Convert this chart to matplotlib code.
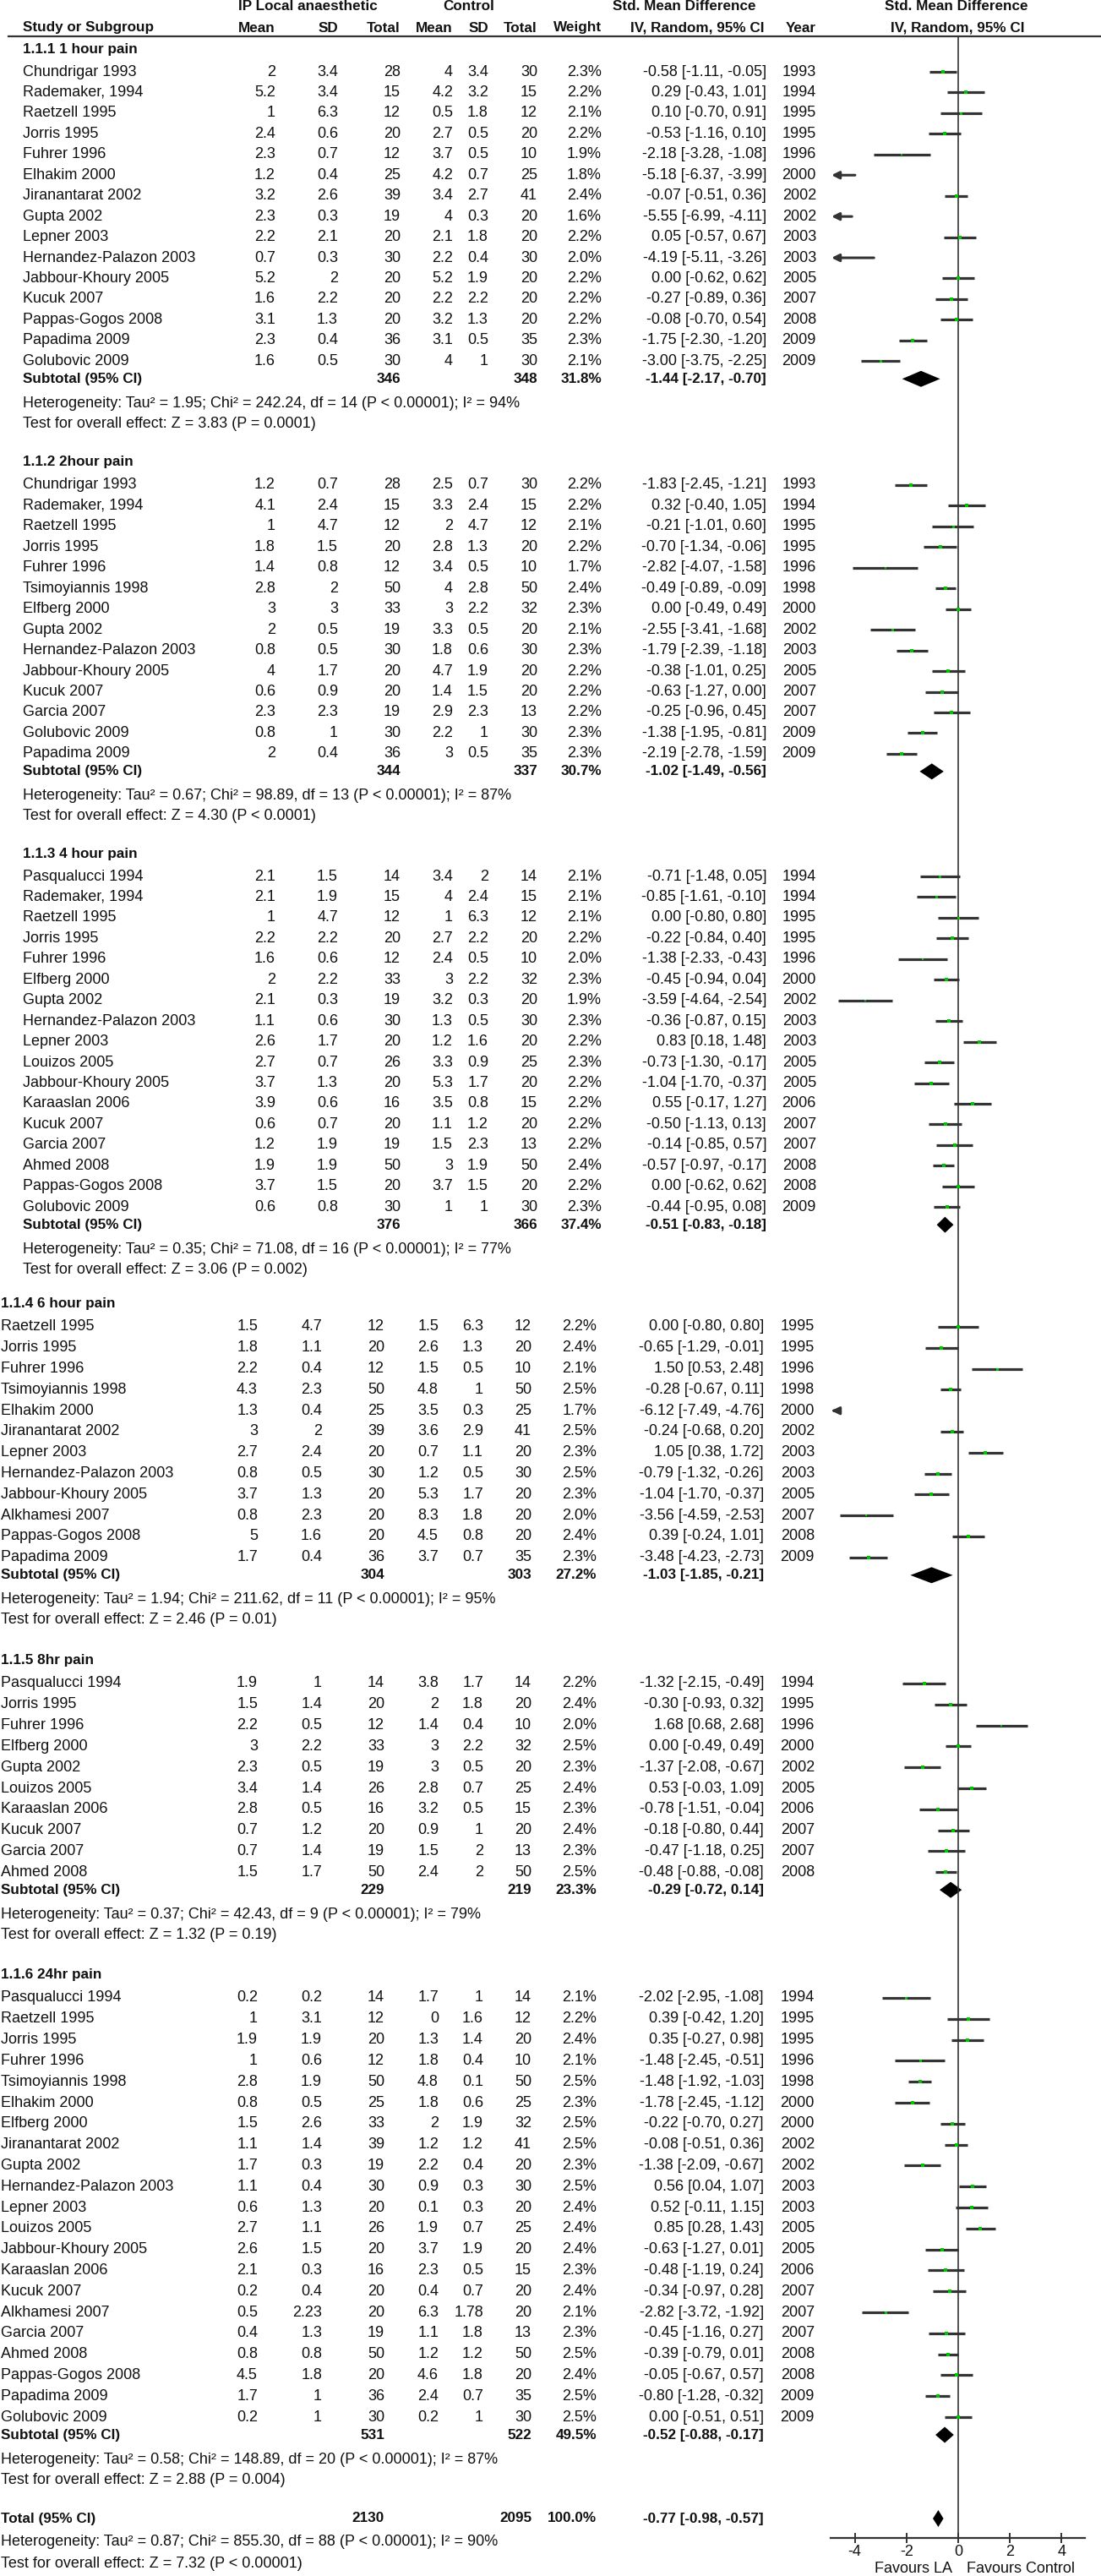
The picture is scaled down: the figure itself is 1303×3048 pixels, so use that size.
import matplotlib
matplotlib.use("Agg")
import matplotlib.pyplot as plt

plt.rcParams['font.family'] = ['Liberation Sans', 'DejaVu Sans']
plt.rcParams['axes.unicode_minus'] = False

# ---- 1.1.1 1 hour pain
h1_study = ["Chundrigar 1993", "Rademaker, 1994", "Raetzell 1995", "Jorris 1995", "Fuhrer 1996",
            "Elhakim 2000", "Jiranantarat 2002", "Gupta 2002", "Lepner 2003", "Hernandez-Palazon 2003",
            "Jabbour-Khoury 2005", "Kucuk 2007", "Pappas-Gogos 2008", "Papadima 2009", "Golubovic 2009"]
h1_year = [1993, 1994, 1995, 1995, 1996, 2000, 2002, 2002, 2003, 2003, 2005, 2007, 2008, 2009, 2009]
h1_la_mean = [2, 5.2, 1, 2.4, 2.3, 1.2, 3.2, 2.3, 2.2, 0.7, 5.2, 1.6, 3.1, 2.3, 1.6]
h1_la_sd = [3.4, 3.4, 6.3, 0.6, 0.7, 0.4, 2.6, 0.3, 2.1, 0.3, 2, 2.2, 1.3, 0.4, 0.5]
h1_la_n = [28, 15, 12, 20, 12, 25, 39, 19, 20, 30, 20, 20, 20, 36, 30]
h1_c_mean = [4, 4.2, 0.5, 2.7, 3.7, 4.2, 3.4, 4, 2.1, 2.2, 5.2, 2.2, 3.2, 3.1, 4]
h1_c_sd = [3.4, 3.2, 1.8, 0.5, 0.5, 0.7, 2.7, 0.3, 1.8, 0.4, 1.9, 2.2, 1.3, 0.5, 1]
h1_c_n = [30, 15, 12, 20, 10, 25, 41, 20, 20, 30, 20, 20, 20, 35, 30]
h1_weight = [2.3, 2.2, 2.1, 2.2, 1.9, 1.8, 2.4, 1.6, 2.2, 2.0, 2.2, 2.2, 2.2, 2.3, 2.1]
h1_smd = [-0.58, 0.29, 0.10, -0.53, -2.18, -5.18, -0.07, -5.55, 0.05, -4.19, 0.00, -0.27, -0.08, -1.75, -3.00]
h1_lo = [-1.11, -0.43, -0.70, -1.16, -3.28, -6.37, -0.51, -6.99, -0.57, -5.11, -0.62, -0.89, -0.70, -2.30, -3.75]
h1_hi = [-0.05, 1.01, 0.91, 0.10, -1.08, -3.99, 0.36, -4.11, 0.67, -3.26, 0.62, 0.36, 0.54, -1.20, -2.25]

# ---- 1.1.2 2hour pain
h2_study = ["Chundrigar 1993", "Rademaker, 1994", "Raetzell 1995", "Jorris 1995", "Fuhrer 1996",
            "Tsimoyiannis 1998", "Elfberg 2000", "Gupta 2002", "Hernandez-Palazon 2003", "Jabbour-Khoury 2005",
            "Kucuk 2007", "Garcia 2007", "Golubovic 2009", "Papadima 2009"]
h2_year = [1993, 1994, 1995, 1995, 1996, 1998, 2000, 2002, 2003, 2005, 2007, 2007, 2009, 2009]
h2_la_mean = [1.2, 4.1, 1, 1.8, 1.4, 2.8, 3, 2, 0.8, 4, 0.6, 2.3, 0.8, 2]
h2_la_sd = [0.7, 2.4, 4.7, 1.5, 0.8, 2, 3, 0.5, 0.5, 1.7, 0.9, 2.3, 1, 0.4]
h2_la_n = [28, 15, 12, 20, 12, 50, 33, 19, 30, 20, 20, 19, 30, 36]
h2_c_mean = [2.5, 3.3, 2, 2.8, 3.4, 4, 3, 3.3, 1.8, 4.7, 1.4, 2.9, 2.2, 3]
h2_c_sd = [0.7, 2.4, 4.7, 1.3, 0.5, 2.8, 2.2, 0.5, 0.6, 1.9, 1.5, 2.3, 1, 0.5]
h2_c_n = [30, 15, 12, 20, 10, 50, 32, 20, 30, 20, 20, 13, 30, 35]
h2_weight = [2.2, 2.2, 2.1, 2.2, 1.7, 2.4, 2.3, 2.1, 2.3, 2.2, 2.2, 2.2, 2.3, 2.3]
h2_smd = [-1.83, 0.32, -0.21, -0.70, -2.82, -0.49, 0.00, -2.55, -1.79, -0.38, -0.63, -0.25, -1.38, -2.19]
h2_lo = [-2.45, -0.40, -1.01, -1.34, -4.07, -0.89, -0.49, -3.41, -2.39, -1.01, -1.27, -0.96, -1.95, -2.78]
h2_hi = [-1.21, 1.05, 0.60, -0.06, -1.58, -0.09, 0.49, -1.68, -1.18, 0.25, 0.00, 0.45, -0.81, -1.59]

# ---- 1.1.3 4 hour pain
h3_study = ["Pasqualucci 1994", "Rademaker, 1994", "Raetzell 1995", "Jorris 1995", "Fuhrer 1996",
            "Elfberg 2000", "Gupta 2002", "Hernandez-Palazon 2003", "Lepner 2003", "Louizos 2005",
            "Jabbour-Khoury 2005", "Karaaslan 2006", "Kucuk 2007", "Garcia 2007", "Ahmed 2008",
            "Pappas-Gogos 2008", "Golubovic 2009"]
h3_year = [1994, 1994, 1995, 1995, 1996, 2000, 2002, 2003, 2003, 2005, 2005, 2006, 2007, 2007, 2008, 2008, 2009]
h3_la_mean = [2.1, 2.1, 1, 2.2, 1.6, 2, 2.1, 1.1, 2.6, 2.7, 3.7, 3.9, 0.6, 1.2, 1.9, 3.7, 0.6]
h3_la_sd = [1.5, 1.9, 4.7, 2.2, 0.6, 2.2, 0.3, 0.6, 1.7, 0.7, 1.3, 0.6, 0.7, 1.9, 1.9, 1.5, 0.8]
h3_la_n = [14, 15, 12, 20, 12, 33, 19, 30, 20, 26, 20, 16, 20, 19, 50, 20, 30]
h3_c_mean = [3.4, 4, 1, 2.7, 2.4, 3, 3.2, 1.3, 1.2, 3.3, 5.3, 3.5, 1.1, 1.5, 3, 3.7, 1]
h3_c_sd = [2, 2.4, 6.3, 2.2, 0.5, 2.2, 0.3, 0.5, 1.6, 0.9, 1.7, 0.8, 1.2, 2.3, 1.9, 1.5, 1]
h3_c_n = [14, 15, 12, 20, 10, 32, 20, 30, 20, 25, 20, 15, 20, 13, 50, 20, 30]
h3_weight = [2.1, 2.1, 2.1, 2.2, 2.0, 2.3, 1.9, 2.3, 2.2, 2.3, 2.2, 2.2, 2.2, 2.2, 2.4, 2.2, 2.3]
h3_smd = [-0.71, -0.85, 0.00, -0.22, -1.38, -0.45, -3.59, -0.36, 0.83, -0.73, -1.04, 0.55, -0.50, -0.14, -0.57, 0.00, -0.44]
h3_lo = [-1.48, -1.61, -0.80, -0.84, -2.33, -0.94, -4.64, -0.87, 0.18, -1.30, -1.70, -0.17, -1.13, -0.85, -0.97, -0.62, -0.95]
h3_hi = [0.05, -0.10, 0.80, 0.40, -0.43, 0.04, -2.54, 0.15, 1.48, -0.17, -0.37, 1.27, 0.13, 0.57, -0.17, 0.62, 0.08]

# ---- 1.1.4 6 hour pain
h4_study = ["Raetzell 1995", "Jorris 1995", "Fuhrer 1996", "Tsimoyiannis 1998", "Elhakim 2000",
            "Jiranantarat 2002", "Lepner 2003", "Hernandez-Palazon 2003", "Jabbour-Khoury 2005",
            "Alkhamesi 2007", "Pappas-Gogos 2008", "Papadima 2009"]
h4_year = [1995, 1995, 1996, 1998, 2000, 2002, 2003, 2003, 2005, 2007, 2008, 2009]
h4_la_mean = [1.5, 1.8, 2.2, 4.3, 1.3, 3, 2.7, 0.8, 3.7, 0.8, 5, 1.7]
h4_la_sd = [4.7, 1.1, 0.4, 2.3, 0.4, 2, 2.4, 0.5, 1.3, 2.3, 1.6, 0.4]
h4_la_n = [12, 20, 12, 50, 25, 39, 20, 30, 20, 20, 20, 36]
h4_c_mean = [1.5, 2.6, 1.5, 4.8, 3.5, 3.6, 0.7, 1.2, 5.3, 8.3, 4.5, 3.7]
h4_c_sd = [6.3, 1.3, 0.5, 1, 0.3, 2.9, 1.1, 0.5, 1.7, 1.8, 0.8, 0.7]
h4_c_n = [12, 20, 10, 50, 25, 41, 20, 30, 20, 20, 20, 35]
h4_weight = [2.2, 2.4, 2.1, 2.5, 1.7, 2.5, 2.3, 2.5, 2.3, 2.0, 2.4, 2.3]
h4_smd = [0.00, -0.65, 1.50, -0.28, -6.12, -0.24, 1.05, -0.79, -1.04, -3.56, 0.39, -3.48]
h4_lo = [-0.80, -1.29, 0.53, -0.67, -7.49, -0.68, 0.38, -1.32, -1.70, -4.59, -0.24, -4.23]
h4_hi = [0.80, -0.01, 2.48, 0.11, -4.76, 0.20, 1.72, -0.26, -0.37, -2.53, 1.01, -2.73]

# ---- 1.1.5 8hr pain
h5_study = ["Pasqualucci 1994", "Jorris 1995", "Fuhrer 1996", "Elfberg 2000", "Gupta 2002",
            "Louizos 2005", "Karaaslan 2006", "Kucuk 2007", "Garcia 2007", "Ahmed 2008"]
h5_year = [1994, 1995, 1996, 2000, 2002, 2005, 2006, 2007, 2007, 2008]
h5_la_mean = [1.9, 1.5, 2.2, 3, 2.3, 3.4, 2.8, 0.7, 0.7, 1.5]
h5_la_sd = [1, 1.4, 0.5, 2.2, 0.5, 1.4, 0.5, 1.2, 1.4, 1.7]
h5_la_n = [14, 20, 12, 33, 19, 26, 16, 20, 19, 50]
h5_c_mean = [3.8, 2, 1.4, 3, 3, 2.8, 3.2, 0.9, 1.5, 2.4]
h5_c_sd = [1.7, 1.8, 0.4, 2.2, 0.5, 0.7, 0.5, 1, 2, 2]
h5_c_n = [14, 20, 10, 32, 20, 25, 15, 20, 13, 50]
h5_weight = [2.2, 2.4, 2.0, 2.5, 2.3, 2.4, 2.3, 2.4, 2.3, 2.5]
h5_smd = [-1.32, -0.30, 1.68, 0.00, -1.37, 0.53, -0.78, -0.18, -0.47, -0.48]
h5_lo = [-2.15, -0.93, 0.68, -0.49, -2.08, -0.03, -1.51, -0.80, -1.18, -0.88]
h5_hi = [-0.49, 0.32, 2.68, 0.49, -0.67, 1.09, -0.04, 0.44, 0.25, -0.08]

# ---- 1.1.6 24hr pain
h6_study = ["Pasqualucci 1994", "Raetzell 1995", "Jorris 1995", "Fuhrer 1996", "Tsimoyiannis 1998",
            "Elhakim 2000", "Elfberg 2000", "Jiranantarat 2002", "Gupta 2002", "Hernandez-Palazon 2003",
            "Lepner 2003", "Louizos 2005", "Jabbour-Khoury 2005", "Karaaslan 2006", "Kucuk 2007",
            "Alkhamesi 2007", "Garcia 2007", "Ahmed 2008", "Pappas-Gogos 2008", "Papadima 2009",
            "Golubovic 2009"]
h6_year = [1994, 1995, 1995, 1996, 1998, 2000, 2000, 2002, 2002, 2003, 2003, 2005, 2005, 2006,
           2007, 2007, 2007, 2008, 2008, 2009, 2009]
h6_la_mean = [0.2, 1, 1.9, 1, 2.8, 0.8, 1.5, 1.1, 1.7, 1.1, 0.6, 2.7, 2.6, 2.1, 0.2, 0.5, 0.4, 0.8, 4.5, 1.7, 0.2]
h6_la_sd = [0.2, 3.1, 1.9, 0.6, 1.9, 0.5, 2.6, 1.4, 0.3, 0.4, 1.3, 1.1, 1.5, 0.3, 0.4, 2.23, 1.3, 0.8, 1.8, 1, 1]
h6_la_n = [14, 12, 20, 12, 50, 25, 33, 39, 19, 30, 20, 26, 20, 16, 20, 20, 19, 50, 20, 36, 30]
h6_c_mean = [1.7, 0, 1.3, 1.8, 4.8, 1.8, 2, 1.2, 2.2, 0.9, 0.1, 1.9, 3.7, 2.3, 0.4, 6.3, 1.1, 1.2, 4.6, 2.4, 0.2]
h6_c_sd = [1, 1.6, 1.4, 0.4, 0.1, 0.6, 1.9, 1.2, 0.4, 0.3, 0.3, 0.7, 1.9, 0.5, 0.7, 1.78, 1.8, 1.2, 1.8, 0.7, 1]
h6_c_n = [14, 12, 20, 10, 50, 25, 32, 41, 20, 30, 20, 25, 20, 15, 20, 20, 13, 50, 20, 35, 30]
h6_weight = [2.1, 2.2, 2.4, 2.1, 2.5, 2.3, 2.5, 2.5, 2.3, 2.5, 2.4, 2.4, 2.4, 2.3, 2.4, 2.1, 2.3, 2.5, 2.4, 2.5, 2.5]
h6_smd = [-2.02, 0.39, 0.35, -1.48, -1.48, -1.78, -0.22, -0.08, -1.38, 0.56, 0.52, 0.85, -0.63, -0.48,
          -0.34, -2.82, -0.45, -0.39, -0.05, -0.80, 0.00]
h6_lo = [-2.95, -0.42, -0.27, -2.45, -1.92, -2.45, -0.70, -0.51, -2.09, 0.04, -0.11, 0.28, -1.27, -1.19,
         -0.97, -3.72, -1.16, -0.79, -0.67, -1.28, -0.51]
h6_hi = [-1.08, 1.20, 0.98, -0.51, -1.03, -1.12, 0.27, 0.36, -0.67, 1.07, 1.15, 1.43, 0.01, 0.24,
         0.28, -1.92, 0.27, 0.01, 0.57, -0.32, 0.51]

# ---- subgroup summaries
sub_titles = ["1.1.1 1 hour pain", "1.1.2 2hour pain", "1.1.3 4 hour pain",
              "1.1.4 6 hour pain", "1.1.5 8hr pain", "1.1.6 24hr pain"]
sub_la_n = [346, 344, 376, 304, 229, 531]
sub_c_n = [348, 337, 366, 303, 219, 522]
sub_weight = [31.8, 30.7, 37.4, 27.2, 23.3, 49.5]
sub_smd = [-1.44, -1.02, -0.51, -1.03, -0.29, -0.52]
sub_lo = [-2.17, -1.49, -0.83, -1.85, -0.72, -0.88]
sub_hi = [-0.70, -0.56, -0.18, -0.21, 0.14, -0.17]
sub_het = ["Heterogeneity: Tau² = 1.95; Chi² = 242.24, df = 14 (P < 0.00001); I² = 94%",
           "Heterogeneity: Tau² = 0.67; Chi² = 98.89, df = 13 (P < 0.00001); I² = 87%",
           "Heterogeneity: Tau² = 0.35; Chi² = 71.08, df = 16 (P < 0.00001); I² = 77%",
           "Heterogeneity: Tau² = 1.94; Chi² = 211.62, df = 11 (P < 0.00001); I² = 95%",
           "Heterogeneity: Tau² = 0.37; Chi² = 42.43, df = 9 (P < 0.00001); I² = 79%",
           "Heterogeneity: Tau² = 0.58; Chi² = 148.89, df = 20 (P < 0.00001); I² = 87%"]
sub_test = ["Test for overall effect: Z = 3.83 (P = 0.0001)",
            "Test for overall effect: Z = 4.30 (P < 0.0001)",
            "Test for overall effect: Z = 3.06 (P = 0.002)",
            "Test for overall effect: Z = 2.46 (P = 0.01)",
            "Test for overall effect: Z = 1.32 (P = 0.19)",
            "Test for overall effect: Z = 2.88 (P = 0.004)"]

total_la_n = 2130
total_c_n = 2095
total_weight = 100.0
total_smd, total_lo, total_hi = -0.77, -0.98, -0.57
total_het = "Heterogeneity: Tau² = 0.87; Chi² = 855.30, df = 88 (P < 0.00001); I² = 90%"
total_test = "Test for overall effect: Z = 7.32 (P < 0.00001)"

axis_ticks = [-4, -2, 0, 2, 4]

# ---------------------------------------------------------------- layout
W, H = 1303, 3048
ZERO_PX, UNIT_PX = 1134, 30.6          # forest plot scale
LEFT_LIM, RIGHT_LIM = -4.9, 4.9        # clip for CI lines
upper = dict(name=27, m1=326, s1=400, n1=474, m2=536, s2=578, n2=636, w=712, ci=907, yr=966)
lower = dict(name=1, m1=305, s1=381, n1=455, m2=519, s2=572, n2=629, w=706, ci=904, yr=964)
head_y = [58, 547, 1010, 1543, 1965, 2337]
row_step = [24.45, 24.45, 24.45, 24.8, 24.8, 24.8]
cols_for = [upper, upper, upper, lower, lower, lower]

FS = 13
FSB = 12.3
TXT = '#111111'
LINE = '#333333'
GREEN = '#00c800'

fig = plt.figure(figsize=(W / 100, H / 100), dpi=100)
tab = fig.add_axes([0, 0, 1, 1])
tab.set_xlim(0, W)
tab.set_ylim(H, 0)
tab.axis('off')

x0_px = 980
fx_left = (x0_px - ZERO_PX) / UNIT_PX
fx_right = (W - ZERO_PX) / UNIT_PX
fp = fig.add_axes([x0_px / W, 0, (W - x0_px) / W, 1])
fp.set_xlim(fx_left, fx_right)
fp.set_ylim(H, 0)
fp.patch.set_alpha(0)
for s in ['top', 'left', 'right']:
    fp.spines[s].set_visible(False)
fp.set_yticks([])
AXIS_Y = 3003
fp.spines['bottom'].set_position(('data', AXIS_Y))
fp.spines['bottom'].set_bounds(-4.95, 4.9)
fp.spines['bottom'].set_linewidth(1.6)
fp.spines['bottom'].set_color(LINE)
fp.set_xticks(axis_ticks)
fp.set_xticklabels([str(t) for t in axis_ticks])
fp.tick_params(axis='x', direction='inout', length=9, width=1.4, colors=LINE,
               labelcolor=TXT, labelsize=FS, pad=1)


def t(x, y, s, ha='left', bold=False):
    tab.text(x, y, s, ha=ha, va='center', fontsize=FSB if bold else FS,
             fontweight='bold' if bold else 'normal', color=TXT)


def fmt(v):
    return f"{v:g}"


def ci_txt(m, lo, hi):
    return f"{m:.2f} [{lo:.2f}, {hi:.2f}]"


# header
t(364, 8, "IP Local anaesthetic", ha='center', bold=True)
t(555, 8, "Control", ha='center', bold=True)
t(810, 8, "Std. Mean Difference", ha='center', bold=True)
t(1132, 8, "Std. Mean Difference", ha='center', bold=True)
c = upper
t(c['name'], 33, "Study or Subgroup", bold=True)
for key, lab in [('m1', 'Mean'), ('s1', 'SD'), ('n1', 'Total'), ('m2', 'Mean'),
                 ('s2', 'SD'), ('n2', 'Total'), ('w', 'Weight')]:
    t(c[key], 33, lab, ha='right', bold=True)
t(825, 33, "IV, Random, 95% CI", ha='center', bold=True)
t(c['yr'], 33, "Year", ha='right', bold=True)
t(1133, 33, "IV, Random, 95% CI", ha='center', bold=True)
tab.plot([10, W], [43, 43], color=LINE, lw=1.6)

# zero line
fp.vlines(0, 43, AXIS_Y, color=LINE, lw=1.2)


def diamond(m, lo, hi, y, h=9.5):
    fp.fill([lo, m, hi, m], [y, y - h, y, y + h], color='black', lw=0)


sections = [
    (h1_study, h1_year, h1_la_mean, h1_la_sd, h1_la_n, h1_c_mean, h1_c_sd, h1_c_n, h1_weight, h1_smd, h1_lo, h1_hi),
    (h2_study, h2_year, h2_la_mean, h2_la_sd, h2_la_n, h2_c_mean, h2_c_sd, h2_c_n, h2_weight, h2_smd, h2_lo, h2_hi),
    (h3_study, h3_year, h3_la_mean, h3_la_sd, h3_la_n, h3_c_mean, h3_c_sd, h3_c_n, h3_weight, h3_smd, h3_lo, h3_hi),
    (h4_study, h4_year, h4_la_mean, h4_la_sd, h4_la_n, h4_c_mean, h4_c_sd, h4_c_n, h4_weight, h4_smd, h4_lo, h4_hi),
    (h5_study, h5_year, h5_la_mean, h5_la_sd, h5_la_n, h5_c_mean, h5_c_sd, h5_c_n, h5_weight, h5_smd, h5_lo, h5_hi),
    (h6_study, h6_year, h6_la_mean, h6_la_sd, h6_la_n, h6_c_mean, h6_c_sd, h6_c_n, h6_weight, h6_smd, h6_lo, h6_hi),
]

for k, sec in enumerate(sections):
    study, year, m1, s1, n1, m2, s2, n2, wt, smd, lo, hi = sec
    c = cols_for[k]
    hy = head_y[k]
    t(c['name'], hy, sub_titles[k], bold=True)
    y = hy + 27
    for i in range(len(study)):
        t(c['name'], y, study[i])
        t(c['m1'], y, fmt(m1[i]), ha='right')
        t(c['s1'], y, fmt(s1[i]), ha='right')
        t(c['n1'], y, str(n1[i]), ha='right')
        t(c['m2'], y, fmt(m2[i]), ha='right')
        t(c['s2'], y, fmt(s2[i]), ha='right')
        t(c['n2'], y, str(n2[i]), ha='right')
        t(c['w'], y, f"{wt[i]:.1f}%", ha='right')
        t(c['ci'], y, ci_txt(smd[i], lo[i], hi[i]), ha='right')
        t(c['yr'], y, str(year[i]), ha='right')
        # forest mark
        a = max(lo[i], LEFT_LIM)
        b = min(hi[i], RIGHT_LIM)
        if lo[i] < LEFT_LIM:
            fp.annotate('', xy=(LEFT_LIM, y), xytext=(b, y),
                        arrowprops=dict(arrowstyle='-|>', color=LINE, lw=2.2,
                                        mutation_scale=13, shrinkA=0, shrinkB=0))
        else:
            fp.plot([a, b], [y, y], color=LINE, lw=2.3, solid_capstyle='butt')
        if LEFT_LIM <= smd[i] <= RIGHT_LIM:
            fp.plot(smd[i], y, 's', color=GREEN, ms=0.9 + wt[i] * 0.6, mew=0)
        last = y
        y += row_step[k]
    sy = last + 21
    t(c['name'], sy, "Subtotal (95% CI)", bold=True)
    t(c['n1'], sy, str(sub_la_n[k]), ha='right', bold=True)
    t(c['n2'], sy, str(sub_c_n[k]), ha='right', bold=True)
    t(c['w'], sy, f"{sub_weight[k]:.1f}%", ha='right', bold=True)
    t(c['ci'], sy, ci_txt(sub_smd[k], sub_lo[k], sub_hi[k]), ha='right', bold=True)
    diamond(sub_smd[k], sub_lo[k], sub_hi[k], sy)
    t(c['name'], sy + 29, sub_het[k])
    t(c['name'], sy + 53, sub_test[k])

# overall
c = lower
ty = 2980
t(c['name'], ty, "Total (95% CI)", bold=True)
t(c['n1'], ty, str(total_la_n), ha='right', bold=True)
t(c['n2'], ty, str(total_c_n), ha='right', bold=True)
t(c['w'], ty, f"{total_weight:.1f}%", ha='right', bold=True)
t(c['ci'], ty, ci_txt(total_smd, total_lo, total_hi), ha='right', bold=True)
diamond(total_smd, total_lo, total_hi, ty, h=10)
t(c['name'], 3008, total_het)
t(c['name'], 3033, total_test)

fp.text(-0.23, 3040, "Favours LA", ha='right', va='center', fontsize=FS, color=TXT)
fp.text(0.33, 3040, "Favours Control", ha='left', va='center', fontsize=FS, color=TXT)

fig.savefig("out.png", dpi=100, facecolor='white')
